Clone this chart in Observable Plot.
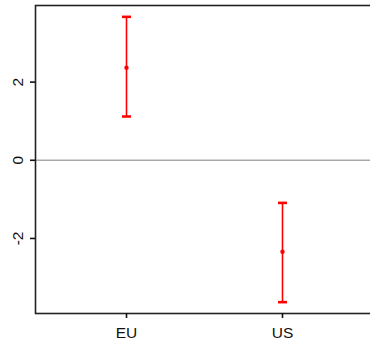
<!DOCTYPE html>
<html><head><meta charset="utf-8">
<script src="https://cdn.jsdelivr.net/npm/d3@7"></script>
<script src="https://cdn.jsdelivr.net/npm/@observablehq/plot@0.6"></script>
<style>body{margin:0;overflow:hidden;background:#fff} #chart{width:370px;height:349px;overflow:hidden} #chart svg{max-width:none !important}</style>
</head><body><div id="chart"></div>
<script>
const regions = ["EU", "US"];
const estimates = [2.37, -2.34];
const lower = [1.12, -3.63];
const upper = [3.67, -1.09];
const yTicks = [-2, 0, 2];
const data = regions.map((r, i) => ({region: r, est: estimates[i], lo: lower[i], hi: upper[i]}));
const chart = Plot.plot({
  width: 373, height: 349,
  marginLeft: 35, marginRight: 0, marginTop: 5, marginBottom: 36,
  style: {fontFamily: "'Liberation Sans', Arial, sans-serif", fontSize: "15.5px", color: "#111", background: "#fff", maxWidth: "none"},
  x: {type: "point", domain: regions, padding: 0.583},
  y: {domain: [-3.92, 3.96]},
  marks: [
    Plot.ruleY([0], {stroke: "#aaa", strokeWidth: 1.5}),
    Plot.link(data, {x1: "region", x2: "region", y1: "lo", y2: "hi", stroke: "red", strokeWidth: 1.6, markerStart: "tick", markerEnd: "tick"}),
    Plot.dot(data, {x: "region", y: "est", r: 2.2, fill: "red", stroke: null}),
    Plot.frame({stroke: "#222", strokeWidth: 1.6}),
    Plot.axisX({ticks: regions, tickSize: 5, tickPadding: 8, label: null, strokeWidth: 1.6}),
    Plot.axisY({ticks: yTicks, tickFormat: d => String(d), tickSize: 5, tickPadding: 8, tickRotate: -90, label: null, strokeWidth: 1.6})
  ]
});
document.getElementById("chart").appendChild(chart);
</script>
</body></html>
